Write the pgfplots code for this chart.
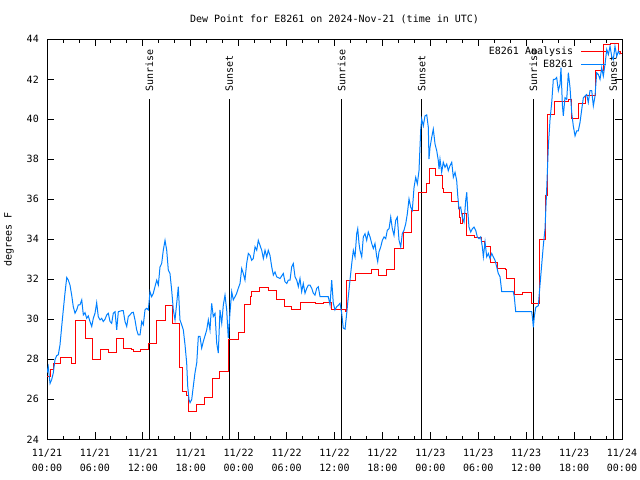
\documentclass[border=0pt]{standalone}
\usepackage{fontspec}
\setmainfont{DejaVu Sans Mono}
\usepackage{pgfplots}
\pgfplotsset{compat=1.18}
\definecolor{anared}{RGB}{255,0,0}
\definecolor{obsblue}{RGB}{0,128,255}
\begin{document}
\begin{tikzpicture}
\path[use as bounding box] (0,0) rectangle (640bp,480bp);
\begin{axis}[
  at={(47bp,40.7bp)}, anchor=south west,
  scale only axis, width=575bp, height=400bp,
  xmin=0, xmax=72, ymin=24, ymax=44,
  xtick={0,6,...,72},
  xticklabels={{11/21\\00:00},{11/21\\06:00},{11/21\\12:00},{11/21\\18:00},{11/22\\00:00},{11/22\\06:00},{11/22\\12:00},{11/22\\18:00},{11/23\\00:00},{11/23\\06:00},{11/23\\12:00},{11/23\\18:00},{11/24\\00:00}},
  minor x tick num=2,
  ytick={24,26,...,44},
  tick align=inside,
  major tick length=7bp, minor tick length=3.5bp,
  every tick/.style={black, line width=0.8bp},
  axis line style={black, line width=1bp},
  font=\fontsize{10bp}{13bp}\selectfont,
  /pgf/number format/assume math mode=true,
  xticklabel style={align=center, yshift=-6.5bp, font=\fontsize{10bp}{14.5bp}\selectfont},
  yticklabel style={xshift=-4.7bp},
  title={Dew Point for E8261 on 2024-Nov-21 (time in UTC)},
  title style={at={(axis description cs:0.5,1)}, anchor=base, yshift=11bp},
  ylabel={degrees F},
  ylabel style={at={(axis description cs:-0.0661,0.5)}, anchor=center},
  legend style={at={(axis description cs:1,1)}, anchor=north east, xshift=-15.3bp, yshift=-7bp,
    draw=none, fill=none, inner sep=0pt, outer sep=0pt, row sep=3bp, column sep=6bp,
    nodes={text height=7bp, text depth=0bp, inner sep=1.5bp}, font=\fontsize{10bp}{13bp}\selectfont},
  legend cell align=right, legend plot pos=right,
  legend image code/.code={\draw[#1] (0bp,0bp) -- (25bp,0bp);},
]
\addplot[black, line width=1bp, forget plot] coordinates {(12.81,24) (12.81,41)} node[pos=1, rotate=90, anchor=west, inner xsep=7.6bp, inner ysep=0pt] {Sunrise};
\addplot[black, line width=1bp, forget plot] coordinates {(22.83,24) (22.83,41)} node[pos=1, rotate=90, anchor=west, inner xsep=7.6bp, inner ysep=0pt] {Sunset};
\addplot[black, line width=1bp, forget plot] coordinates {(36.90,24) (36.90,41)} node[pos=1, rotate=90, anchor=west, inner xsep=7.6bp, inner ysep=0pt] {Sunrise};
\addplot[black, line width=1bp, forget plot] coordinates {(46.92,24) (46.92,41)} node[pos=1, rotate=90, anchor=west, inner xsep=7.6bp, inner ysep=0pt] {Sunset};
\addplot[black, line width=1bp, forget plot] coordinates {(60.90,24) (60.90,41)} node[pos=1, rotate=90, anchor=west, inner xsep=7.6bp, inner ysep=0pt] {Sunrise};
\addplot[black, line width=1bp, forget plot] coordinates {(70.91,24) (70.91,41)} node[pos=1, rotate=90, anchor=west, inner xsep=7.6bp, inner ysep=0pt] {Sunset};

\addplot[anared, line width=1bp, const plot] coordinates {
(0,27.15) (0.38,27.5) (0.79,27.8) (1.63,28.1) (3.01,27.8) (3.63,29.94) (4.76,29.06) (5.72,28.0)
(6.72,28.5) (7.68,28.35) (8.73,29.06) (9.64,28.56) (10.61,28.48) (10.81,28.4) (11.65,28.48)
(12.69,28.8) (13.65,29.94) (14.78,30.67) (15.74,29.8) (16.65,27.57) (16.99,26.4) (17.49,26.2)
(17.69,25.38) (18.75,25.74) (19.66,26.07) (20.7,27.02) (21.54,27.15) (21.66,27.4) (22.7,28.98)
(23.95,29.34) (24.67,30.75) (25.42,31.13) (25.63,31.38) (26.67,31.6) (27.71,31.46) (28.76,30.97)
(29.68,30.63) (30.64,30.47) (31.68,30.83) (33.56,30.77) (34.6,30.83) (35.65,30.47) (37.32,30.4)
(37.53,31.93) (38.57,32.29) (40.66,32.49) (41.57,32.2) (42.54,32.49) (43.45,33.54) (44.62,34.36)
(45.67,35.44) (46.49,36.32) (47.55,36.77) (47.87,37.55) (48.67,37.18) (49.55,36.52) (49.62,36.35)
(50.59,35.9) (51.5,35.52) (51.63,35.1) (51.72,34.78) (52.0,35.28) (52.56,34.2) (53.59,34.08)
(54.35,33.87) (54.76,33.62) (55.56,32.82) (56.39,32.54) (57.35,32.49) (57.56,32.04) (58.6,31.25)
(59.57,31.33) (60.69,30.77) (61.61,34.0) (62.45,36.19) (62.7,40.25) (63.52,40.9) (65.28,40.97)
(65.7,40.04) (66.53,40.8) (67.37,41.2) (68.62,42.44) (69.66,43.74) (70.5,43.8) (71.54,43.4)
(71.75,43.3) (72,43.3)
};
\addlegendentry{E8261 Analysis}

\addplot[obsblue, line width=1bp] coordinates {
(0,27.32) (0.16,27.62) (0.38,26.79) (0.59,26.99) (0.79,27.32) (1.0,27.98) (1.21,28.18) (1.42,28.23)
(1.63,28.73) (1.84,29.64) (2.04,30.47) (2.25,31.3) (2.47,32.09) (2.67,31.96) (2.88,31.71) (3.09,31.21)
(3.29,30.63) (3.51,30.3) (3.72,30.47) (3.92,30.72) (4.13,30.72) (4.35,30.97) (4.55,30.22) (4.76,30.33)
(4.97,30.05) (5.17,30.17) (5.38,29.89) (5.6,29.64) (5.8,30.05) (6.01,30.3) (6.22,30.83) (6.42,30.14)
(6.64,29.97) (6.85,30.05) (7.05,29.89) (7.26,30.0) (7.48,30.22) (7.68,30.3) (7.89,29.89) (8.1,29.8)
(8.3,30.3) (8.52,30.38) (8.73,29.47) (8.93,30.38) (9.35,30.43) (9.55,30.43) (9.77,29.89) (9.98,29.64)
(10.18,30.14) (10.39,30.22) (10.61,30.33) (10.81,30.35) (11.02,29.97) (11.23,29.47) (11.43,29.22)
(11.65,29.22) (11.86,29.89) (12.06,29.72) (12.27,30.47) (12.48,30.55) (12.69,30.47) (12.9,31.38)
(13.11,31.13) (13.31,31.3) (13.52,31.63) (13.74,31.96) (13.94,31.71) (14.15,32.62) (14.36,32.79)
(14.56,33.45) (14.78,33.95) (14.99,33.45) (15.19,32.46) (15.4,32.29) (15.61,31.46) (15.82,30.47)
(16.03,29.97) (16.24,30.8) (16.44,31.63) (16.65,29.97) (16.87,29.72) (17.07,29.47) (17.28,28.73)
(17.49,27.82) (17.62,26.65) (17.78,25.99) (17.91,25.83) (18.12,25.99) (18.32,26.65) (18.53,27.32)
(18.75,27.82) (18.95,29.14) (19.16,29.14) (19.37,28.56) (19.57,28.89) (19.78,29.17) (20.0,29.47)
(20.2,29.97) (20.41,29.47) (20.62,30.8) (20.82,30.14) (21.04,30.3) (21.25,28.81) (21.45,28.31)
(21.66,30.47) (21.88,29.8) (22.08,30.72) (22.29,31.21) (22.5,30.47) (22.7,29.06) (22.92,30.38)
(23.13,31.38) (23.33,30.97) (23.54,31.13) (23.75,31.3) (23.95,31.55) (24.17,31.79) (24.38,32.54)
(24.58,32.29) (24.79,31.96) (25.0,32.79) (25.21,33.29) (25.42,33.2) (25.63,32.95) (25.83,33.04)
(26.05,33.62) (26.26,33.45) (26.46,33.95) (26.67,33.7) (26.89,33.45) (27.09,33.04) (27.3,33.45)
(27.51,33.12) (27.71,33.45) (27.92,33.2) (28.14,32.62) (28.34,32.21) (28.55,32.37) (28.76,32.12)
(29.18,32.04) (29.59,32.29) (29.8,31.88) (30.02,31.79) (30.22,31.96) (30.43,31.96) (30.64,32.62)
(30.84,32.79) (31.06,32.12) (31.27,31.96) (31.47,31.63) (31.68,32.04) (31.89,31.38) (32.09,31.79)
(32.31,31.3) (32.52,31.55) (32.72,31.71) (32.93,31.71) (33.15,31.55) (33.35,31.3) (33.56,31.21)
(33.77,31.55) (33.97,31.63) (34.19,31.13) (35.22,31.13) (35.44,30.72) (35.65,31.96) (35.85,30.8)
(36.06,30.47) (36.28,30.63) (36.48,30.7) (36.69,30.8) (36.9,30.3) (37.1,29.56) (37.32,29.51)
(37.53,30.3) (37.73,31.13) (37.94,31.96) (38.16,32.79) (38.36,33.45) (38.57,33.12) (38.78,34.28)
(38.91,34.53) (39.07,33.79) (39.19,33.45) (39.41,33.12) (39.61,34.12) (39.82,34.28) (40.03,33.95)
(40.23,34.36) (40.45,34.12) (40.66,33.79) (40.86,33.54) (41.07,33.79) (41.29,33.12) (41.41,32.88)
(41.57,33.37) (41.79,33.62) (41.99,33.95) (42.2,34.12) (42.41,34.03) (42.61,34.45) (42.83,34.53)
(43.04,35.11) (43.24,34.53) (43.45,34.2) (43.66,34.95) (43.86,35.11) (44.08,33.95) (44.29,33.62)
(44.49,34.28) (44.7,34.45) (44.92,34.78) (45.12,35.28) (45.33,36.02) (45.54,35.61) (45.74,35.44)
(45.96,36.6) (46.17,37.1) (46.37,36.77) (46.58,37.43) (46.8,39.51) (46.92,40.01) (47.12,39.67)
(47.33,40.17) (47.55,40.22) (47.75,39.59) (47.83,38.01) (47.96,38.59) (48.17,39.09) (48.37,39.51)
(48.59,38.76) (48.8,38.43) (49.0,37.93) (49.09,37.51) (49.21,38.01) (49.42,37.35) (49.62,37.85)
(49.84,37.6) (50.05,37.76) (50.25,37.43) (50.46,37.68) (50.68,37.85) (50.88,37.1) (51.09,37.35)
(51.3,36.94) (51.43,36.19) (51.59,35.52) (51.8,35.61) (52.0,35.11) (52.22,34.86) (52.43,35.94)
(52.56,36.35) (52.68,35.44) (52.84,34.61) (53.06,34.36) (53.26,34.53) (53.47,34.61) (53.68,34.45)
(53.88,34.12) (54.1,34.03) (54.31,34.12) (54.51,33.62) (54.64,33.12) (54.85,33.87) (55.06,33.12)
(55.26,33.29) (55.47,33.04) (55.69,33.29) (55.89,33.12) (56.1,32.95) (56.31,32.62) (56.51,32.29)
(56.73,32.12) (56.94,31.38) (58.39,31.38) (58.51,31.13) (58.69,30.38) (60.69,30.38) (60.77,30.14)
(60.9,29.6) (61.02,30.14) (61.2,30.6) (61.52,30.68) (61.73,31.71) (61.94,32.71) (62.15,33.7)
(62.36,34.53) (62.57,36.52) (62.78,38.68) (62.99,40.0) (63.2,40.84) (63.4,42.0) (63.61,42.0)
(63.82,42.09) (64.03,41.43) (64.24,41.76) (64.36,42.58) (64.53,40.75) (64.65,40.17) (64.86,41.08)
(65.08,41.0) (65.28,42.33) (65.49,41.59) (65.7,40.34) (65.9,39.67) (66.12,39.17) (66.33,39.42)
(66.53,39.42) (66.74,39.84) (66.96,40.5) (67.16,41.08) (67.37,41.16) (67.58,41.24) (67.78,40.84)
(67.99,41.43) (68.21,41.43) (68.41,40.67) (68.62,41.16) (68.83,42.33) (69.04,42.24) (69.25,42.0)
(69.46,42.58) (69.66,42.16) (69.87,42.74) (70.09,43.49) (70.29,43.24) (70.5,43.65) (70.71,43.15)
(70.91,42.99) (71.12,43.65) (71.34,43.15) (71.54,43.4) (71.75,43.24)
};
\addlegendentry{E8261}
\end{axis}
\end{tikzpicture}
\end{document}
